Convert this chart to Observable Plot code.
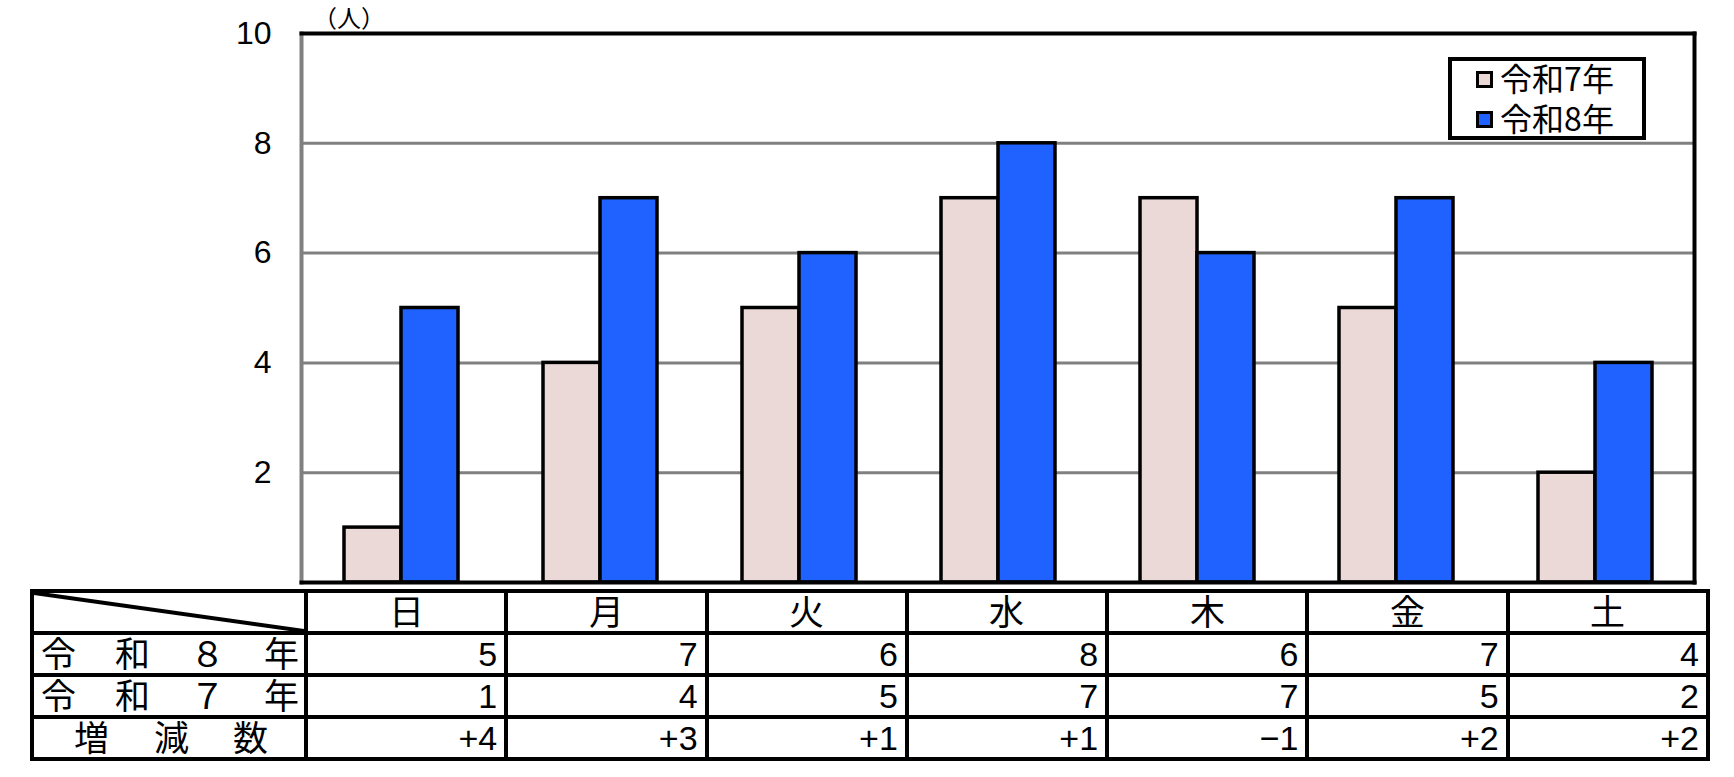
<!DOCTYPE html>
<html><head><meta charset="utf-8">
<script src="https://cdn.jsdelivr.net/npm/d3@7"></script>
<script src="https://cdn.jsdelivr.net/npm/@observablehq/plot@0.6"></script>
<style>
@font-face{font-family:"CJKTight";src:local("Noto Sans CJK JP"),local("Noto Sans CJK JP Regular"),local("NotoSansCJKjp-Regular"),local("NotoSansCJKJP-Regular");ascent-override:88%;descent-override:12%;line-gap-override:0%;}
body{margin:0;background:#fff;font-family:"Liberation Sans","Noto Sans CJK JP",sans-serif;}
#wrap{position:relative;width:1734px;height:777px;overflow:hidden;}
#chart{position:absolute;left:0;top:0;}
#legend{position:absolute;left:1448px;top:57px;width:190px;height:75px;border:4px solid #000;background:#fff;}
#legend .item{position:absolute;left:24px;height:40px;display:flex;align-items:center;font-family:"CJKTight","Noto Sans CJK JP",sans-serif;font-size:32px;line-height:40px;}
#legend .sw{width:11px;height:11px;border:3.5px solid #000;margin-right:7px;flex:none;}
#tbl{position:absolute;left:30px;top:589px;border-collapse:collapse;table-layout:fixed;width:1680px;}
#tbl td{border:4px solid #000;padding:0 7px;height:38px;font-size:34px;line-height:38px;text-align:right;white-space:nowrap;overflow:visible;}
#tbl td.day{text-align:center;font-family:"CJKTight","Noto Sans CJK JP",sans-serif;font-size:35px;line-height:38px;}
#tbl td.lab{font-family:"CJKTight","Noto Sans CJK JP",sans-serif;font-size:35px;line-height:38px;padding:0 5px 0 7px;}
#tbl td.lab .sp{display:flex;justify-content:space-between;height:38px;align-items:center;}
#tbl td.lab.inc{padding:0 36px 0 40px;}
#tbl td.diag{background:linear-gradient(to top right, transparent calc(50% - 2.5px), #000 calc(50% - 1.5px), #000 calc(50% + 1.5px), transparent calc(50% + 2.5px));}
</style></head><body>
<div id="wrap"><div id="chart"></div><div id="legend"></div><table id="tbl"></table></div>
<script>
const days = ["日","月","火","水","木","金","土"];
const seriesNames = ["令和7年","令和8年"];
const valuesR7 = [1,4,5,7,7,5,2];
const valuesR8 = [5,7,6,8,6,7,4];
const yTicks = [2,4,6,8,10];
const colors = ["#ebd9d7","#1f62ff"];
const unitLabel = "（人）";
const rowLabels = ["令和８年","令和７年","増減数"];

const data = days.flatMap((d,i)=>[
  {day:d, series:seriesNames[0], value:valuesR7[i]},
  {day:d, series:seriesNames[1], value:valuesR8[i]}
]);

const chart = Plot.plot({
  width:1734, height:590,
  marginLeft:298, marginRight:38, marginTop:33, marginBottom:8,
  style:{fontFamily:'"Liberation Sans","Noto Sans CJK JP",sans-serif', fontSize:"32px", color:"#000", background:"#fff", overflow:"visible"},
  fx:{domain:days, padding:0, axis:null},
  x:{domain:seriesNames, paddingInner:0, paddingOuter:0.72, axis:null},
  y:{domain:[0,10], ticks:yTicks, tickSize:0, tickPadding:30, label:null},
  color:{domain:seriesNames, range:colors},
  marks:[
    Plot.ruleY(yTicks.filter(t=>t<10), {stroke:"#808080", strokeWidth:3}),
    Plot.barY(data, {fx:"day", x:"series", y:"value", fill:"series", stroke:"#000", strokeWidth:3.5}),
    Plot.frame({anchor:"left", stroke:"#808080", strokeWidth:4, facet:"super"}),
    Plot.frame({anchor:"top", stroke:"#000", strokeWidth:4, facet:"super"}),
    Plot.frame({anchor:"right", stroke:"#000", strokeWidth:4, facet:"super"}),
    Plot.frame({anchor:"bottom", stroke:"#000", strokeWidth:4, facet:"super"}),
    Plot.text([unitLabel], {frameAnchor:"top-left", textAnchor:"middle", lineAnchor:"middle", dx:47, dy:-14, fontSize:24, fontFamily:'"CJKTight","Noto Sans CJK JP",sans-serif', facet:"super"})
  ]
});
document.getElementById("chart").appendChild(chart);

// legend
const legend = document.getElementById("legend");
seriesNames.forEach((s,i)=>{
  const it = document.createElement("div");
  it.className = "item";
  it.style.top = (i===0 ? -2 : 38) + "px";
  const sw = document.createElement("div");
  sw.className = "sw"; sw.style.background = colors[i];
  const tx = document.createElement("span"); tx.textContent = s;
  it.appendChild(sw); it.appendChild(tx); legend.appendChild(it);
});

// table
const tbl = document.getElementById("tbl");
const cg = document.createElement("colgroup");
const c0 = document.createElement("col"); c0.style.width = "274px"; cg.appendChild(c0);
days.forEach(()=>{const c=document.createElement("col"); cg.appendChild(c);});
tbl.appendChild(cg);
const fmtDiff = v => v > 0 ? "+" + v : v < 0 ? "\u2212" + Math.abs(v) : "0";
const rows = [
  valuesR8.map(String),
  valuesR7.map(String),
  valuesR8.map((v,i)=>fmtDiff(v - valuesR7[i]))
];
const hr = document.createElement("tr");
const hd = document.createElement("td"); hd.className = "diag"; hr.appendChild(hd);
days.forEach(d=>{const td=document.createElement("td"); td.className="day"; td.textContent=d; hr.appendChild(td);});
tbl.appendChild(hr);
rows.forEach((r,ri)=>{
  const tr = document.createElement("tr");
  const lab = document.createElement("td"); lab.className = "lab" + (ri===2 ? " inc" : "");
  const sp = document.createElement("div"); sp.className = "sp";
  [...rowLabels[ri]].forEach(ch=>{const s=document.createElement("span"); s.textContent=ch; sp.appendChild(s);});
  lab.appendChild(sp); tr.appendChild(lab);
  r.forEach(v=>{const td=document.createElement("td"); td.textContent=v; tr.appendChild(td);});
  tbl.appendChild(tr);
});
</script>
</body></html>
